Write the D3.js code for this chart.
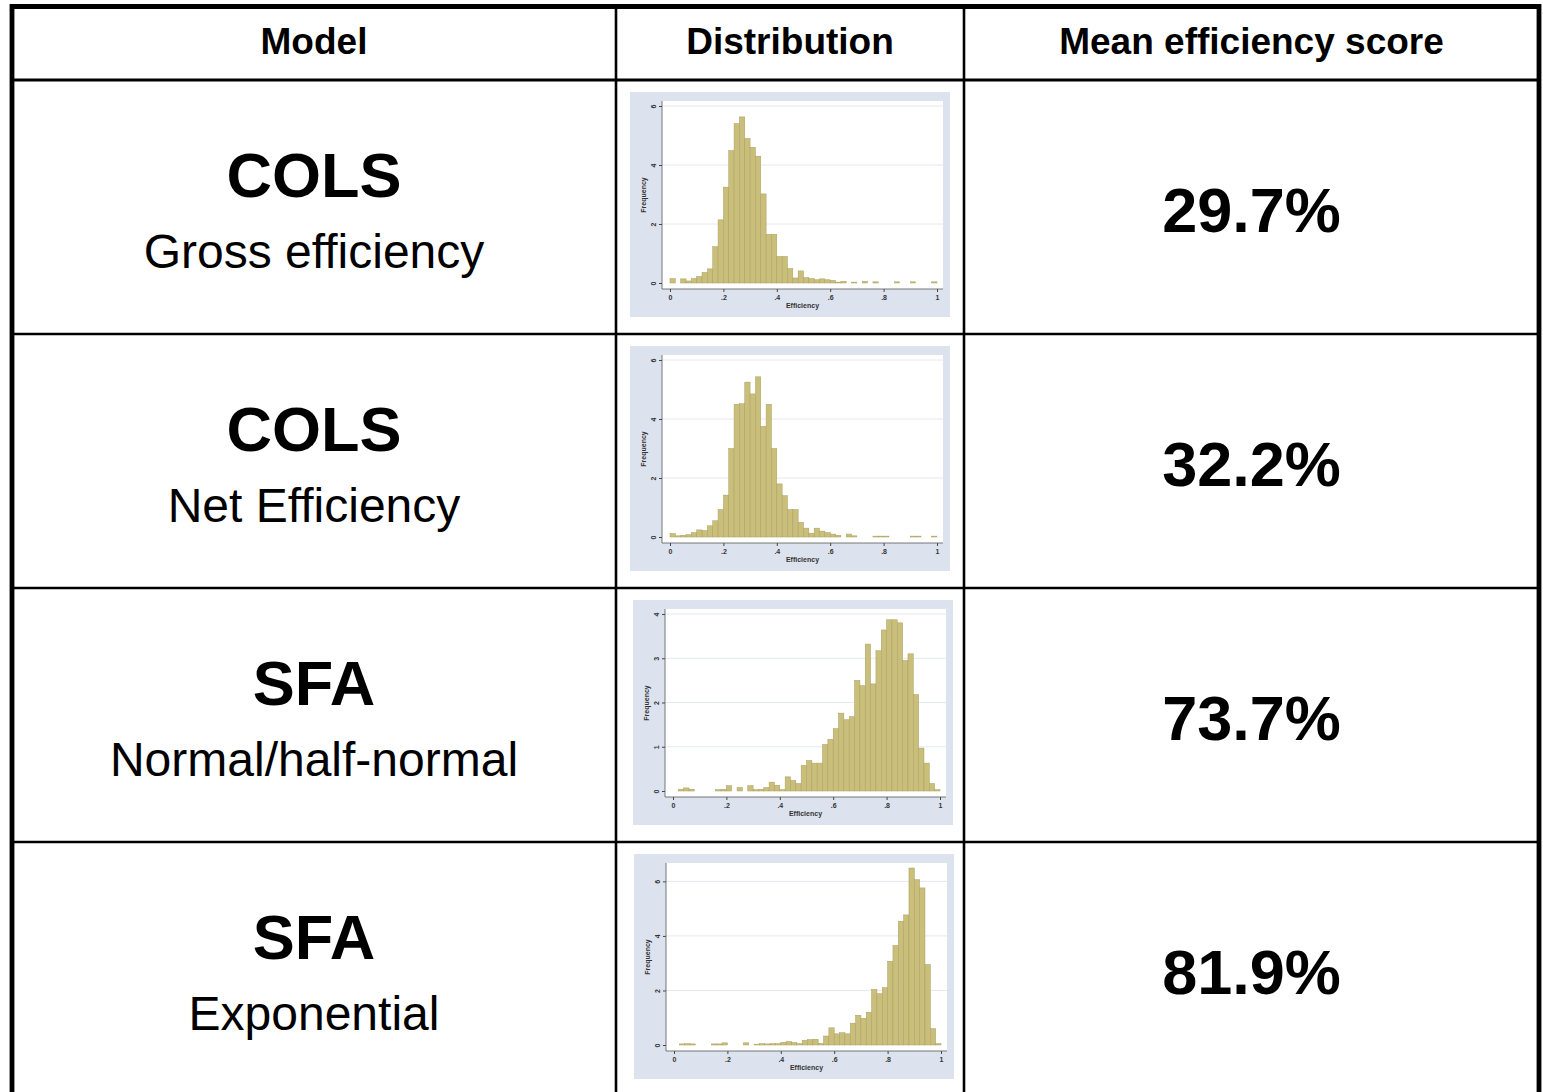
<!DOCTYPE html>
<html>
<head>
<meta charset="utf-8">
<script src="https://cdn.jsdelivr.net/npm/d3@7"></script>
<style>
  body { margin: 0; background: #fff; }
  text { font-family: "Liberation Sans", Arial, sans-serif; }
</style>
</head>
<body>
<div id="chart"></div>
<script>
// table content
var headers = ["Model", "Distribution", "Mean efficiency score"];
var models = ["COLS", "COLS", "SFA", "SFA"];
var variants = ["Gross efficiency", "Net Efficiency", "Normal/half-normal", "Exponential"];
var meanScores = [29.7, 32.2, 73.7, 81.9];

// histogram data: bins of width 0.02 over [0, 1]
var binWidth = 0.02;
var colsGross = [0.15, 0, 0.14, 0.07, 0.15, 0.22, 0.36, 0.48, 1.23, 2.14,
                 3.25, 4.49, 5.40, 5.63, 4.90, 4.60, 4.30, 3.02, 1.65, 1.65,
                 0.90, 0.90, 0.49, 0.17, 0.41, 0.18, 0.15, 0.11, 0.14, 0.11,
                 0.09, 0.03, 0.06, 0, 0.03, 0, 0.06, 0, 0.04, 0,
                 0, 0, 0.04, 0, 0, 0.04, 0, 0, 0, 0.04];
var colsNet = [0.12, 0.04, 0.06, 0.08, 0.15, 0.24, 0.22, 0.38, 0.55, 0.93,
               1.42, 3.00, 4.50, 4.52, 5.25, 4.85, 5.43, 3.75, 4.50, 3.00,
               1.80, 1.40, 0.93, 0.93, 0.50, 0.30, 0.13, 0.30, 0.20, 0.15,
               0.10, 0.06, 0, 0.10, 0.04, 0, 0, 0, 0.03, 0.03,
               0.03, 0, 0, 0, 0, 0.03, 0.03, 0, 0, 0.03];
var sfaHalfNormal = [0, 0.04, 0.07, 0.04, 0, 0, 0, 0, 0.03, 0.04,
                     0.12, 0, 0.08, 0, 0.12, 0.03, 0.04, 0.08, 0.20, 0.13,
                     0.03, 0.32, 0.24, 0.17, 0.58, 0.69, 0.63, 0.63, 1.05, 1.17,
                     1.41, 1.76, 1.61, 1.68, 2.50, 2.38, 3.32, 2.42, 3.17, 3.64,
                     3.87, 3.87, 3.80, 2.95, 3.10, 2.18, 0.97, 0.63, 0.17, 0.03];
var sfaExponential = [0, 0.04, 0.05, 0.04, 0, 0, 0, 0.04, 0.04, 0.08,
                      0, 0, 0, 0.08, 0, 0.03, 0.05, 0.04, 0.05, 0.05,
                      0.10, 0.13, 0.09, 0.05, 0.17, 0.20, 0.21, 0.06, 0.33, 0.63,
                      0.41, 0.45, 0.41, 0.80, 1.09, 0.98, 1.20, 2.04, 1.88, 2.10,
                      3.07, 3.65, 4.54, 4.77, 6.49, 6.06, 5.76, 2.95, 0.60, 0.05];
var histograms = [colsGross, colsNet, sfaHalfNormal, sfaExponential];

// axis ticks
var xTicks = [0, 0.2, 0.4, 0.6, 0.8, 1];
var yTicks = [[0, 2, 4, 6], [0, 2, 4, 6], [0, 1, 2, 3, 4], [0, 2, 4, 6]];

// layout
var width = 1543, height = 1092;
var colEdges = [12, 616, 964, 1539];
var headerBottom = 80;
var panelW = 320, panelH = 225;
var panelShift = [0, 0, 3, 4];

var svg = d3.select("#chart").append("svg")
    .attr("width", width)
    .attr("height", height);

svg.append("rect")
    .attr("width", width)
    .attr("height", height)
    .attr("fill", "#fff");

var rowScale = d3.scaleBand()
    .domain(d3.range(models.length))
    .range([headerBottom, headerBottom + 4 * 254]);

var colCenter = function(i) { return (colEdges[i] + colEdges[i + 1]) / 2; };

// header
svg.selectAll(".header")
    .data(headers)
    .enter().append("text")
    .attr("class", "header")
    .attr("x", function(d, i) { return colCenter(i); })
    .attr("y", 54)
    .attr("text-anchor", "middle")
    .style("font-size", "37px")
    .style("font-weight", "bold")
    .text(function(d) { return d; });

// rows
var rows = svg.selectAll(".row")
    .data(models)
    .enter().append("g")
    .attr("class", "row")
    .attr("transform", function(d, i) { return "translate(0," + rowScale(i) + ")"; });

rows.append("text")
    .attr("x", colCenter(0))
    .attr("y", 117)
    .attr("text-anchor", "middle")
    .style("font-size", "63px")
    .style("font-weight", "bold")
    .text(function(d) { return d; });

rows.append("text")
    .attr("x", colCenter(0))
    .attr("y", 188)
    .attr("text-anchor", "middle")
    .style("font-size", "48px")
    .text(function(d, i) { return variants[i]; });

rows.append("text")
    .attr("x", colCenter(2))
    .attr("y", 152)
    .attr("text-anchor", "middle")
    .style("font-size", "63px")
    .style("font-weight", "bold")
    .text(function(d, i) { return d3.format(".1f")(meanScores[i]) + "%"; });

// histogram panels
var plot = {left: 32, right: 313, top: 9, bottom: 197};
var x = d3.scaleLinear().domain([0, 1]).range([40, 307]);

rows.each(function(d, i) {
  var values = histograms[i];
  var ticks = yTicks[i];
  var y = d3.scaleLinear()
      .domain([0, Math.max(ticks[ticks.length - 1], d3.max(values))])
      .range([191, 14]);

  var g = d3.select(this).append("g")
      .attr("transform", "translate(" + (colCenter(1) - panelW / 2 + panelShift[i]) + ",12)");

  g.append("rect")
      .attr("width", panelW)
      .attr("height", panelH)
      .attr("fill", "#dde3ee");

  g.append("rect")
      .attr("x", plot.left)
      .attr("y", plot.top)
      .attr("width", plot.right - plot.left)
      .attr("height", plot.bottom - plot.top)
      .attr("fill", "#fff");

  // grid lines
  g.selectAll(".grid")
      .data(ticks.slice(1))
      .enter().append("line")
      .attr("x1", plot.left)
      .attr("x2", plot.right)
      .attr("y1", function(t) { return y(t); })
      .attr("y2", function(t) { return y(t); })
      .attr("stroke", "#e4e8ef")
      .attr("stroke-width", 1);

  // bars
  g.selectAll(".bar")
      .data(values)
      .enter().append("rect")
      .attr("class", "bar")
      .attr("x", function(v, k) { return x(k * binWidth); })
      .attr("width", x(binWidth) - x(0))
      .attr("y", function(v) { return y(v); })
      .attr("height", function(v) { return y(0) - y(v); })
      .attr("fill", "#c9be7a")
      .attr("stroke", function(v) { return v > 0 ? "#aaa062" : "none"; })
      .attr("stroke-width", 0.5);

  // axes
  var yAxis = g.append("g")
      .attr("transform", "translate(" + plot.left + ",0)")
      .call(d3.axisLeft(y).tickValues(ticks).tickSize(3).tickFormat(d3.format("d")));
  yAxis.select(".domain").remove();
  yAxis.selectAll("line").attr("stroke", "#444");
  yAxis.selectAll("text")
      .attr("transform", "rotate(-90)")
      .attr("x", 0)
      .attr("y", -6)
      .attr("dy", 0)
      .style("text-anchor", "middle")
      .style("font-size", "7px")
      .style("font-weight", "bold")
      .attr("fill", "#333");

  var xAxis = g.append("g")
      .attr("transform", "translate(0," + plot.bottom + ")")
      .call(d3.axisBottom(x).tickValues(xTicks).tickSize(3)
        .tickFormat(function(t) { return t === 0 || t === 1 ? String(t) : d3.format(".1f")(t).replace(/^0/, ""); }));
  xAxis.select(".domain").remove();
  xAxis.selectAll("line").attr("stroke", "#444");
  xAxis.selectAll("text")
      .attr("y", 6)
      .style("font-size", "7px")
      .style("font-weight", "bold")
      .attr("fill", "#333");

  g.append("line")
      .attr("x1", plot.left).attr("x2", plot.left)
      .attr("y1", plot.top).attr("y2", plot.bottom)
      .attr("stroke", "#555").attr("stroke-width", 0.8);
  g.append("line")
      .attr("x1", plot.left).attr("x2", plot.right)
      .attr("y1", plot.bottom).attr("y2", plot.bottom)
      .attr("stroke", "#555").attr("stroke-width", 0.8);

  g.append("text")
      .attr("x", (plot.left + plot.right) / 2)
      .attr("y", 216)
      .attr("text-anchor", "middle")
      .style("font-size", "7px")
      .style("font-weight", "bold")
      .attr("fill", "#333")
      .text("Efficiency");

  g.append("text")
      .attr("transform", "translate(16," + (plot.top + plot.bottom) / 2 + ") rotate(-90)")
      .attr("text-anchor", "middle")
      .style("font-size", "7px")
      .style("font-weight", "bold")
      .attr("fill", "#333")
      .text("Frequency");
});

// table lines
var lineColor = "#000";
rowScale.domain().slice(1).forEach(function(i) {
  svg.append("line")
      .attr("x1", colEdges[0]).attr("x2", colEdges[3])
      .attr("y1", rowScale(i)).attr("y2", rowScale(i))
      .attr("stroke", lineColor).attr("stroke-width", 2.6);
});
svg.append("line")
    .attr("x1", colEdges[0]).attr("x2", colEdges[3])
    .attr("y1", headerBottom).attr("y2", headerBottom)
    .attr("stroke", lineColor).attr("stroke-width", 2.8);
[1, 2].forEach(function(c) {
  svg.append("line")
      .attr("x1", colEdges[c]).attr("x2", colEdges[c])
      .attr("y1", 6).attr("y2", height)
      .attr("stroke", lineColor).attr("stroke-width", 2.6);
});
// outer border (open at the bottom)
svg.append("path")
    .attr("d", "M" + colEdges[0] + "," + height + "V6.5H" + colEdges[3] + "V" + height)
    .attr("fill", "none")
    .attr("stroke", lineColor)
    .attr("stroke-width", 4.8);
</script>
</body>
</html>
